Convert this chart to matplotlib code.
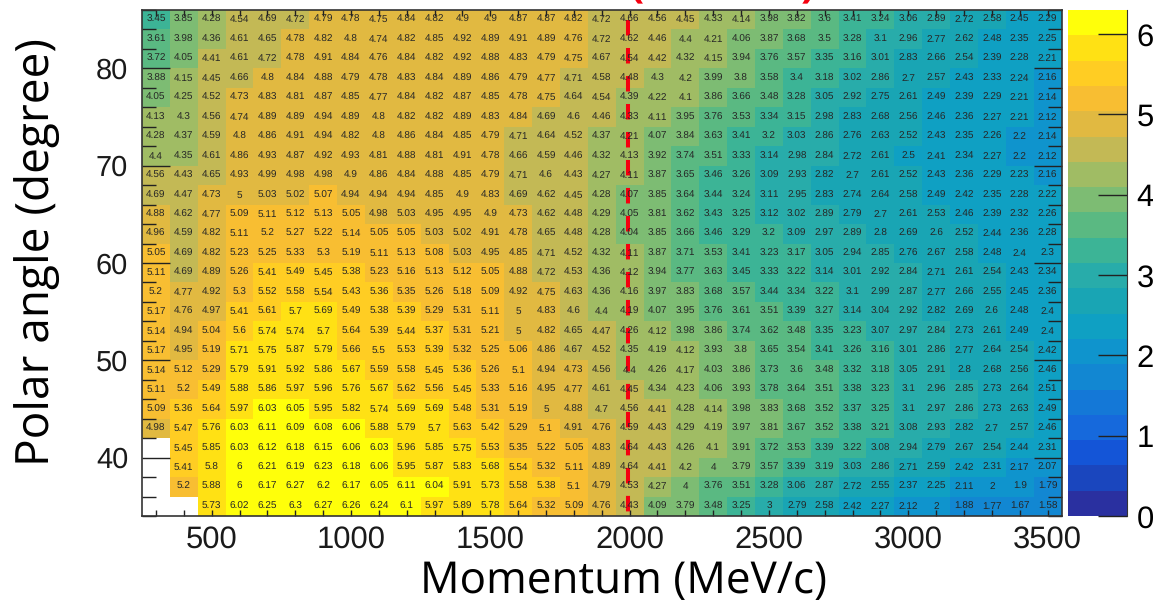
import numpy as np
import matplotlib
matplotlib.use('Agg')
import matplotlib.pyplot as plt
from matplotlib.colors import ListedColormap, BoundaryNorm
from matplotlib.ticker import MultipleLocator

plt.rcParams['text.hinting'] = 'none'
plt.rcParams['text.hinting_factor'] = 1

W, H = 1153, 600

# bin edges of the map
p_edges = np.arange(250, 3551, 100)
theta_edges = np.arange(34, 87, 2)

n = float('nan')

# one row per polar angle bin, top of the chart first
row_85 = [3.45, 3.85, 4.28, 4.54, 4.69, 4.72, 4.79, 4.78, 4.75, 4.84, 4.82, 4.9, 4.9, 4.87, 4.87, 4.82, 4.72, 4.66, 4.56, 4.45, 4.33, 4.14, 3.98, 3.82, 3.6, 3.41, 3.24, 3.06, 2.89, 2.72, 2.58, 2.45, 2.29]
row_83 = [3.61, 3.98, 4.36, 4.61, 4.65, 4.78, 4.82, 4.8, 4.74, 4.82, 4.85, 4.92, 4.89, 4.91, 4.89, 4.76, 4.72, 4.62, 4.46, 4.4, 4.21, 4.06, 3.87, 3.68, 3.5, 3.28, 3.1, 2.96, 2.77, 2.62, 2.48, 2.35, 2.25]
row_81 = [3.72, 4.05, 4.41, 4.61, 4.72, 4.78, 4.91, 4.84, 4.76, 4.84, 4.82, 4.92, 4.88, 4.83, 4.79, 4.75, 4.67, 4.54, 4.42, 4.32, 4.15, 3.94, 3.76, 3.57, 3.35, 3.16, 3.01, 2.83, 2.66, 2.54, 2.39, 2.28, 2.21]
row_79 = [3.88, 4.15, 4.45, 4.66, 4.8, 4.84, 4.88, 4.79, 4.78, 4.83, 4.84, 4.89, 4.86, 4.79, 4.77, 4.71, 4.58, 4.48, 4.3, 4.2, 3.99, 3.8, 3.58, 3.4, 3.18, 3.02, 2.86, 2.7, 2.57, 2.43, 2.33, 2.24, 2.16]
row_77 = [4.05, 4.25, 4.52, 4.73, 4.83, 4.81, 4.87, 4.85, 4.77, 4.84, 4.82, 4.87, 4.85, 4.78, 4.75, 4.64, 4.54, 4.39, 4.22, 4.1, 3.86, 3.66, 3.48, 3.28, 3.05, 2.92, 2.75, 2.61, 2.49, 2.39, 2.29, 2.21, 2.14]
row_75 = [4.13, 4.3, 4.56, 4.74, 4.89, 4.89, 4.94, 4.89, 4.8, 4.82, 4.82, 4.89, 4.83, 4.84, 4.69, 4.6, 4.46, 4.33, 4.11, 3.95, 3.76, 3.53, 3.34, 3.15, 2.98, 2.83, 2.68, 2.56, 2.46, 2.36, 2.27, 2.21, 2.12]
row_73 = [4.28, 4.37, 4.59, 4.8, 4.86, 4.91, 4.94, 4.82, 4.8, 4.86, 4.84, 4.85, 4.79, 4.71, 4.64, 4.52, 4.37, 4.21, 4.07, 3.84, 3.63, 3.41, 3.2, 3.03, 2.86, 2.76, 2.63, 2.52, 2.43, 2.35, 2.26, 2.2, 2.14]
row_71 = [4.4, 4.35, 4.61, 4.86, 4.93, 4.87, 4.92, 4.93, 4.81, 4.88, 4.81, 4.91, 4.78, 4.66, 4.59, 4.46, 4.32, 4.13, 3.92, 3.74, 3.51, 3.33, 3.14, 2.98, 2.84, 2.72, 2.61, 2.5, 2.41, 2.34, 2.27, 2.2, 2.12]
row_69 = [4.56, 4.43, 4.65, 4.93, 4.99, 4.98, 4.98, 4.9, 4.86, 4.84, 4.88, 4.85, 4.79, 4.71, 4.6, 4.43, 4.27, 4.11, 3.87, 3.65, 3.46, 3.26, 3.09, 2.93, 2.82, 2.7, 2.61, 2.52, 2.43, 2.36, 2.29, 2.23, 2.16]
row_67 = [4.69, 4.47, 4.73, 5, 5.03, 5.02, 5.07, 4.94, 4.94, 4.94, 4.85, 4.9, 4.83, 4.69, 4.62, 4.45, 4.28, 4.07, 3.85, 3.64, 3.44, 3.24, 3.11, 2.95, 2.83, 2.74, 2.64, 2.58, 2.49, 2.42, 2.35, 2.28, 2.22]
row_65 = [4.88, 4.62, 4.77, 5.09, 5.11, 5.12, 5.13, 5.05, 4.98, 5.03, 4.95, 4.95, 4.9, 4.73, 4.62, 4.48, 4.29, 4.05, 3.81, 3.62, 3.43, 3.25, 3.12, 3.02, 2.89, 2.79, 2.7, 2.61, 2.53, 2.46, 2.39, 2.32, 2.26]
row_63 = [4.96, 4.59, 4.82, 5.11, 5.2, 5.27, 5.22, 5.14, 5.05, 5.05, 5.03, 5.02, 4.91, 4.78, 4.65, 4.48, 4.28, 4.04, 3.85, 3.66, 3.46, 3.29, 3.2, 3.09, 2.97, 2.89, 2.8, 2.69, 2.6, 2.52, 2.44, 2.36, 2.28]
row_61 = [5.05, 4.69, 4.82, 5.23, 5.25, 5.33, 5.3, 5.19, 5.11, 5.13, 5.08, 5.03, 4.95, 4.85, 4.71, 4.52, 4.32, 4.11, 3.87, 3.71, 3.53, 3.41, 3.23, 3.17, 3.05, 2.94, 2.85, 2.76, 2.67, 2.58, 2.48, 2.4, 2.3]
row_59 = [5.11, 4.69, 4.89, 5.26, 5.41, 5.49, 5.45, 5.38, 5.23, 5.16, 5.13, 5.12, 5.05, 4.88, 4.72, 4.53, 4.36, 4.12, 3.94, 3.77, 3.63, 3.45, 3.33, 3.22, 3.14, 3.01, 2.92, 2.84, 2.71, 2.61, 2.54, 2.43, 2.34]
row_57 = [5.2, 4.77, 4.92, 5.3, 5.52, 5.58, 5.54, 5.43, 5.36, 5.35, 5.26, 5.18, 5.09, 4.92, 4.75, 4.63, 4.36, 4.16, 3.97, 3.83, 3.68, 3.57, 3.44, 3.34, 3.22, 3.1, 2.99, 2.87, 2.77, 2.66, 2.55, 2.45, 2.36]
row_55 = [5.17, 4.76, 4.97, 5.41, 5.61, 5.7, 5.69, 5.49, 5.38, 5.39, 5.29, 5.31, 5.11, 5, 4.83, 4.6, 4.4, 4.19, 4.07, 3.95, 3.76, 3.61, 3.51, 3.39, 3.27, 3.14, 3.04, 2.92, 2.82, 2.69, 2.6, 2.48, 2.4]
row_53 = [5.14, 4.94, 5.04, 5.6, 5.74, 5.74, 5.7, 5.64, 5.39, 5.44, 5.37, 5.31, 5.21, 5, 4.82, 4.65, 4.47, 4.26, 4.12, 3.98, 3.86, 3.74, 3.62, 3.48, 3.35, 3.23, 3.07, 2.97, 2.84, 2.73, 2.61, 2.49, 2.4]
row_51 = [5.17, 4.95, 5.19, 5.71, 5.75, 5.87, 5.79, 5.66, 5.5, 5.53, 5.39, 5.32, 5.25, 5.06, 4.86, 4.67, 4.52, 4.35, 4.19, 4.12, 3.93, 3.8, 3.65, 3.54, 3.41, 3.26, 3.16, 3.01, 2.86, 2.77, 2.64, 2.54, 2.42]
row_49 = [5.14, 5.12, 5.29, 5.79, 5.91, 5.92, 5.86, 5.67, 5.59, 5.58, 5.45, 5.36, 5.26, 5.1, 4.94, 4.73, 4.56, 4.4, 4.26, 4.17, 4.03, 3.86, 3.73, 3.6, 3.48, 3.32, 3.18, 3.05, 2.91, 2.8, 2.68, 2.56, 2.46]
row_47 = [5.11, 5.2, 5.49, 5.88, 5.86, 5.97, 5.96, 5.76, 5.67, 5.62, 5.56, 5.45, 5.33, 5.16, 4.95, 4.77, 4.61, 4.45, 4.34, 4.23, 4.06, 3.93, 3.78, 3.64, 3.51, 3.38, 3.23, 3.1, 2.96, 2.85, 2.73, 2.64, 2.51]
row_45 = [5.09, 5.36, 5.64, 5.97, 6.03, 6.05, 5.95, 5.82, 5.74, 5.69, 5.69, 5.48, 5.31, 5.19, 5, 4.88, 4.7, 4.56, 4.41, 4.28, 4.14, 3.98, 3.83, 3.68, 3.52, 3.37, 3.25, 3.1, 2.97, 2.86, 2.73, 2.63, 2.49]
row_43 = [4.98, 5.47, 5.76, 6.03, 6.11, 6.09, 6.08, 6.06, 5.88, 5.79, 5.7, 5.63, 5.42, 5.29, 5.1, 4.91, 4.76, 4.59, 4.43, 4.29, 4.19, 3.97, 3.81, 3.67, 3.52, 3.38, 3.21, 3.08, 2.93, 2.82, 2.7, 2.57, 2.46]
row_41 = [n, 5.45, 5.85, 6.03, 6.12, 6.18, 6.15, 6.06, 6.03, 5.96, 5.85, 5.75, 5.53, 5.35, 5.22, 5.05, 4.83, 4.64, 4.43, 4.26, 4.1, 3.91, 3.72, 3.53, 3.39, 3.22, 3.08, 2.94, 2.79, 2.67, 2.54, 2.44, 2.31]
row_39 = [n, 5.41, 5.8, 6, 6.21, 6.19, 6.23, 6.18, 6.06, 5.95, 5.87, 5.83, 5.68, 5.54, 5.32, 5.11, 4.89, 4.64, 4.41, 4.2, 4, 3.79, 3.57, 3.39, 3.19, 3.03, 2.86, 2.71, 2.59, 2.42, 2.31, 2.17, 2.07]
row_37 = [n, 5.2, 5.88, 6, 6.17, 6.27, 6.2, 6.17, 6.05, 6.11, 6.04, 5.91, 5.73, 5.58, 5.38, 5.1, 4.79, 4.53, 4.27, 4, 3.76, 3.51, 3.28, 3.06, 2.87, 2.72, 2.55, 2.37, 2.25, 2.11, 2, 1.9, 1.79]
row_35 = [n, n, 5.73, 6.02, 6.25, 6.3, 6.27, 6.26, 6.24, 6.1, 5.97, 5.89, 5.78, 5.64, 5.32, 5.09, 4.76, 4.43, 4.09, 3.79, 3.48, 3.25, 3, 2.79, 2.58, 2.42, 2.27, 2.12, 2, 1.88, 1.77, 1.67, 1.58]

rows = [row_35, row_37, row_39, row_41, row_43, row_45, row_47, row_49, row_51,
        row_53, row_55, row_57, row_59, row_61, row_63, row_65, row_67, row_69,
        row_71, row_73, row_75, row_77, row_79, row_81, row_83, row_85]
values = np.array(rows)

# 20 colour levels, bottom to top
level_colors = ['#2a30a0', '#1a46be', '#1455d7', '#1669dc', '#1478d7', '#1287d2',
                '#0f94cd', '#0fa0c3', '#19a5b4', '#28acaa', '#3cb496', '#5ab982',
                '#7dbc73', '#a0bc64', '#c3b955', '#e1b941', '#f8be32', '#ffcd23',
                '#ffe114', '#ffff0a']
levels = np.linspace(0, 6.3, 21)

cmap = ListedColormap(level_colors)
cmap.set_bad('white')
norm = BoundaryNorm(levels, cmap.N)

fig = plt.figure(figsize=(W / 100, H / 100), dpi=100)

# axes boxes from pixel positions
ax = fig.add_axes([142 / W, 1 - 516 / H, (1061.5 - 142) / W, (516 - 10) / H])
cax = fig.add_axes([1068 / W, 1 - 516 / H, (1127 - 1068) / W, (516 - 10) / H])

mesh = ax.pcolormesh(p_edges, theta_edges, np.ma.masked_invalid(values), cmap=cmap, norm=norm, antialiased=False)

p_centers = (p_edges[:-1] + p_edges[1:]) / 2
theta_centers = (theta_edges[:-1] + theta_edges[1:]) / 2
for i, th in enumerate(theta_centers):
    for j, p in enumerate(p_centers):
        v = values[i, j]
        if np.isnan(v):
            continue
        ax.text(p, th, '%g' % v, ha='center', va='center', fontsize=7.4,
                family='Liberation Sans', color='#262626')

# red dashed line
ax.plot([1993, 1993], [85, 34.4], color='#f5000f', lw=2.9, dashes=(3.85, 3.1), dash_capstyle='butt')

ax.set_xlim(250, 3550)
ax.set_ylim(34, 86)
ax.xaxis.set_major_locator(MultipleLocator(500))
ax.xaxis.set_minor_locator(MultipleLocator(100))
ax.yaxis.set_major_locator(MultipleLocator(10))
ax.yaxis.set_minor_locator(MultipleLocator(2))
ax.tick_params(axis='x', which='both', direction='in', top=True, length=4.5, width=1, color='#222222')
ax.tick_params(axis='y', which='major', direction='in', right=True, length=20, width=1, color='#222222')
ax.tick_params(axis='y', which='minor', direction='in', right=True, length=10, width=1, color='#222222')
ax.tick_params(axis='x', which='major', labelsize=22.5, pad=7, labelcolor='#1a1a1a')
ax.tick_params(axis='y', which='major', labelsize=21, pad=10, labelcolor='#1a1a1a')
for lab in ax.get_xticklabels() + ax.get_yticklabels():
    lab.set_family('Liberation Sans')
for s in ax.spines.values():
    s.set_linewidth(1.2)
    s.set_color('#333333')

cb = fig.colorbar(mesh, cax=cax, ticks=[0, 1, 2, 3, 4, 5, 6], spacing='proportional')
cb.outline.set_visible(False)
cax.minorticks_off()
cax.spines['right'].set_visible(True)
cax.spines['right'].set_color('#333333')
cax.tick_params(axis='y', which='major', direction='in', length=21, width=1, labelsize=22.5, pad=7, color='#222222')
for lab in cax.get_yticklabels():
    lab.set_family('Liberation Sans')

fig.text(624 / W, 1 - 593 / H, 'Momentum (MeV/c)', ha='center', va='baseline', fontsize=32, family='Open Sans')
fig.text(38 / W, 1 - 252 / H, 'Polar angle (degree)', rotation=90, ha='center', va='center',
         fontsize=33, family='Open Sans')

# bottom of the cut off red title brackets
fig.text(636 / W, 1 + 3 / H, '(', ha='center', va='baseline', fontsize=30, color='#f5000f', fontweight='bold', family='Open Sans')
fig.text(808 / W, 1 + 3 / H, ')', ha='center', va='baseline', fontsize=30, color='#f5000f', fontweight='bold', family='Open Sans')

fig.savefig('out.png', dpi=100)
